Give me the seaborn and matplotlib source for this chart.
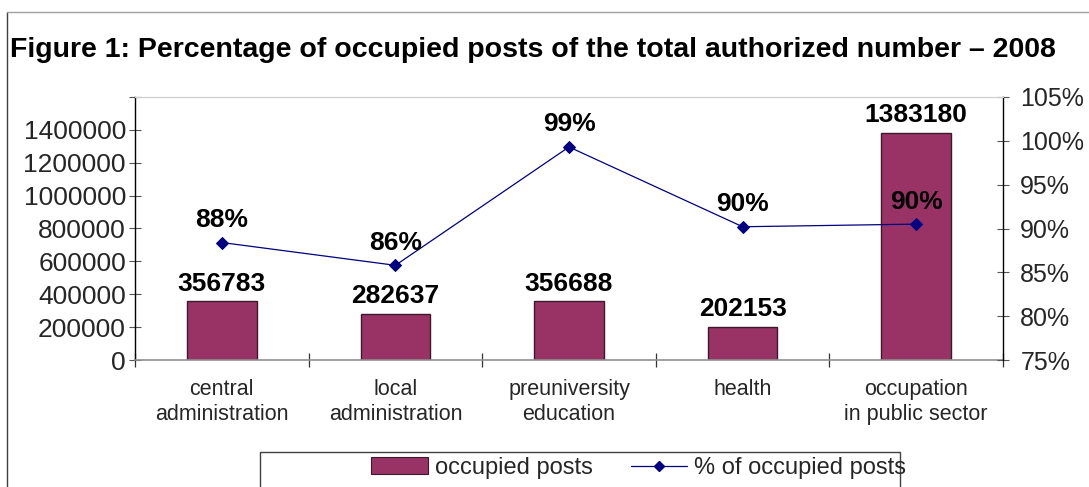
import matplotlib
matplotlib.use("Agg")
import matplotlib.pyplot as plt
import seaborn as sns
import pandas as pd
from matplotlib.lines import Line2D
from matplotlib.patches import Patch, Rectangle
from matplotlib.ticker import FuncFormatter

categories = ["central\nadministration", "local\nadministration", "preuniversity\neducation",
              "health", "occupation\nin public sector"]
occupied_posts = [356783, 282637, 356688, 202153, 1383180]
pct_occupied = [0.884, 0.858, 0.993, 0.902, 0.905]
left_ticks = [0, 200000, 400000, 600000, 800000, 1000000, 1200000, 1400000, 1600000]
right_ticks = [0.75, 0.80, 0.85, 0.90, 0.95, 1.00, 1.05]
title = "Figure 1: Percentage of occupied posts of the total authorized number \u2013 2008"
legend_labels = ["occupied posts", "% of occupied posts"]

sns.set_theme(style="white")
FAM = ["Liberation Sans", "DejaVu Sans"]
plt.rcParams["font.family"] = FAM

BAR = "#993366"
LINE = "#000080"

df = pd.DataFrame({"cat": categories, "posts": occupied_posts, "pct": pct_occupied})

fig = plt.figure(figsize=(10.89, 4.87), dpi=100)
ax = fig.add_axes([135 / 1089, (487 - 360) / 487, (1003 - 135) / 1089, (360 - 97) / 487])

sns.barplot(data=df, x="cat", y="posts", ax=ax, color=BAR, width=0.4,
            edgecolor="#3a1a2a", linewidth=1.0, saturation=1)
ax.set_ylim(0, 1600000)
ax.set_yticks(left_ticks)
ax.set_yticklabels([f"{t:d}" if t < 1600000 else "" for t in left_ticks])
ax.set_xlabel("")
ax.set_ylabel("")
ax.set_xlim(-0.5, len(categories) - 0.5)

for i, v in enumerate(occupied_posts):
    ax.text(i, v + 35000, f"{v:d}", ha="center", va="bottom", fontsize=19,
            fontweight="bold", color="black")

ax2 = ax.twinx()
sns.lineplot(data=df, x="cat", y="pct", ax=ax2, color=LINE, marker="D", markersize=6,
             linewidth=0.9, markeredgecolor=LINE, sort=False)
ax2.set_ylim(0.75, 1.05)
ax2.set_yticks(right_ticks)
ax2.yaxis.set_major_formatter(FuncFormatter(lambda v, p: f"{round(v * 100):d}%"))
ax2.set_ylabel("")
ax2.set_xlabel("")
for i, p in enumerate(pct_occupied):
    ax2.text(i, p + 0.012, f"{round(p * 100):d}%", ha="center", va="bottom", fontsize=19,
             fontweight="bold", color="black")

# spines and ticks
for a in (ax, ax2):
    a.spines["top"].set_visible(True)
    a.spines["top"].set_color("#d0d0d0")
    a.spines["top"].set_linewidth(0.8)
ax.spines["left"].set_color("black")
ax.spines["left"].set_linewidth(1.0)
ax.spines["bottom"].set_color("#909090")
ax.spines["bottom"].set_linewidth(1.2)
ax.spines["right"].set_visible(False)
ax2.spines["left"].set_visible(False)
ax2.spines["bottom"].set_visible(False)
ax2.spines["right"].set_color("black")
ax2.spines["right"].set_linewidth(1.0)

ax.tick_params(axis="y", direction="inout", length=9, width=0.8, color="#555555",
               labelsize=19, pad=2, left=True)
ax2.tick_params(axis="y", direction="inout", length=9, width=0.8, color="#555555",
                labelsize=18, pad=8, right=True)
ax.set_xticks([i for i in range(len(categories))])
ax.set_xticklabels(categories, fontsize=15.5, linespacing=1.25)
ax.tick_params(axis="x", length=0, pad=14)
# category boundary ticks
ax.set_xticks([i - 0.5 for i in range(len(categories) + 1)], minor=True)
ax.tick_params(axis="x", which="minor", direction="inout", length=10, width=0.9,
               color="#333333", bottom=True)

fig.text(10 / 1089, 1 - 50 / 487, title, ha="left", va="center", fontsize=20.5,
         fontweight="bold", color="black")

# outer frame lines
fig.add_artist(Line2D([7 / 1089, 7 / 1089], [0, 1 - 12 / 487], transform=fig.transFigure,
                      color="#404040", linewidth=1.0))
fig.add_artist(Line2D([7 / 1089, 1], [1 - 12 / 487, 1 - 12 / 487], transform=fig.transFigure,
                      color="#a0a0a0", linewidth=1.0))

# legend box
fig.add_artist(Rectangle((260 / 1089, -0.05), (900 - 260) / 1089, 0.05 + 35 / 487,
                         transform=fig.transFigure, fill=False, edgecolor="#404040",
                         linewidth=1.0))
handles = [Patch(facecolor=BAR, edgecolor="#3a1a2a", linewidth=0.8),
           Line2D([0], [0], color=LINE, marker="D", markersize=5, linewidth=0.9)]
fig.legend(handles, legend_labels, loc="center left", ncol=2, frameon=False,
           bbox_to_anchor=(350 / 1089, 1 - 468 / 487), fontsize=17,
           handlelength=2.4, handletextpad=0.3, columnspacing=1.6)

fig.savefig("out.png", dpi=100)
